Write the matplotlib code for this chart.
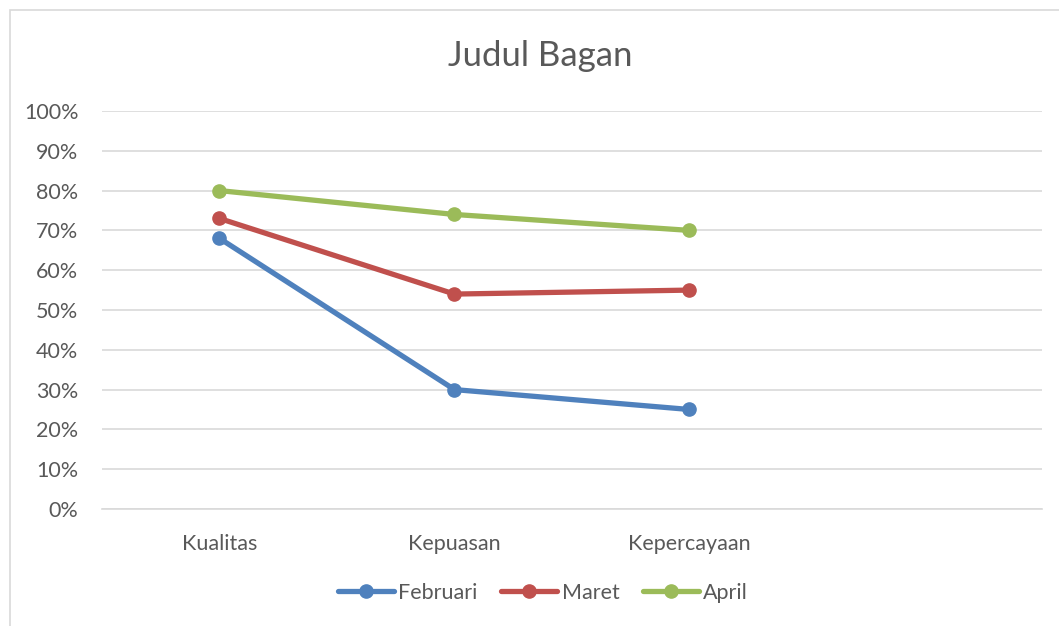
import matplotlib.pyplot as plt
from matplotlib.patches import Rectangle
from matplotlib.ticker import PercentFormatter

# data
categories = ['Kualitas', 'Kepuasan', 'Kepercayaan', '']
februari = [0.68, 0.30, 0.25]
maret = [0.73, 0.54, 0.55]
april = [0.80, 0.74, 0.70]

series = [('Februari', februari, '#4F81BD'),
          ('Maret', maret, '#C0504D'),
          ('April', april, '#9BBB59')]

plt.rcParams['font.family'] = ['Lato', 'DejaVu Sans']
text_color = '#595959'

fig = plt.figure(figsize=(10.59, 6.26), dpi=100)
ax = fig.add_axes([0.0963, 0.1869, 0.8876, 0.6358])

# chart area border
fig.patches.append(Rectangle((10 / 1059, -0.1), 1.2, 1 - 10 / 626 + 0.1,
                             transform=fig.transFigure, fill=False,
                             edgecolor='#D9D9D9', linewidth=1.2))

for name, vals, color in series:
    ax.plot(range(len(vals)), vals, color=color, linewidth=3.8,
            marker='o', markersize=9.5, label=name, solid_capstyle='round')

ax.set_xlim(-0.5, len(categories) - 0.5)
ax.set_ylim(0, 1.0)
ax.set_yticks([i / 10 for i in range(11)])
ax.yaxis.set_major_formatter(PercentFormatter(1.0, decimals=0))
ax.set_xticks(range(len(categories)))
ax.set_xticklabels(categories)

ax.grid(axis='y', color='#D9D9D9', linewidth=1.2)
ax.set_axisbelow(True)
for s in ax.spines.values():
    s.set_visible(False)
ax.spines['bottom'].set_visible(True)
ax.spines['bottom'].set_color('#D9D9D9')
ax.spines['bottom'].set_linewidth(1.2)
ax.tick_params(length=0, labelsize=15.5, colors=text_color)
ax.tick_params(axis='y', pad=17)
ax.tick_params(axis='x', pad=18)

fig.text(540 / 1059, 1 - 56 / 626, 'Judul Bagan', ha='center', va='center',
         fontsize=25, color=text_color)

leg = ax.legend(loc='center', ncol=3, frameon=False, fontsize=15.5,
                handlelength=2.6, columnspacing=1.1, handletextpad=0.2)
for t in leg.get_texts():
    t.set_color(text_color)
leg.set_bbox_to_anchor((543 / 1059, 1 - 593 / 626), transform=fig.transFigure)

fig.savefig('out.png', dpi=100)
